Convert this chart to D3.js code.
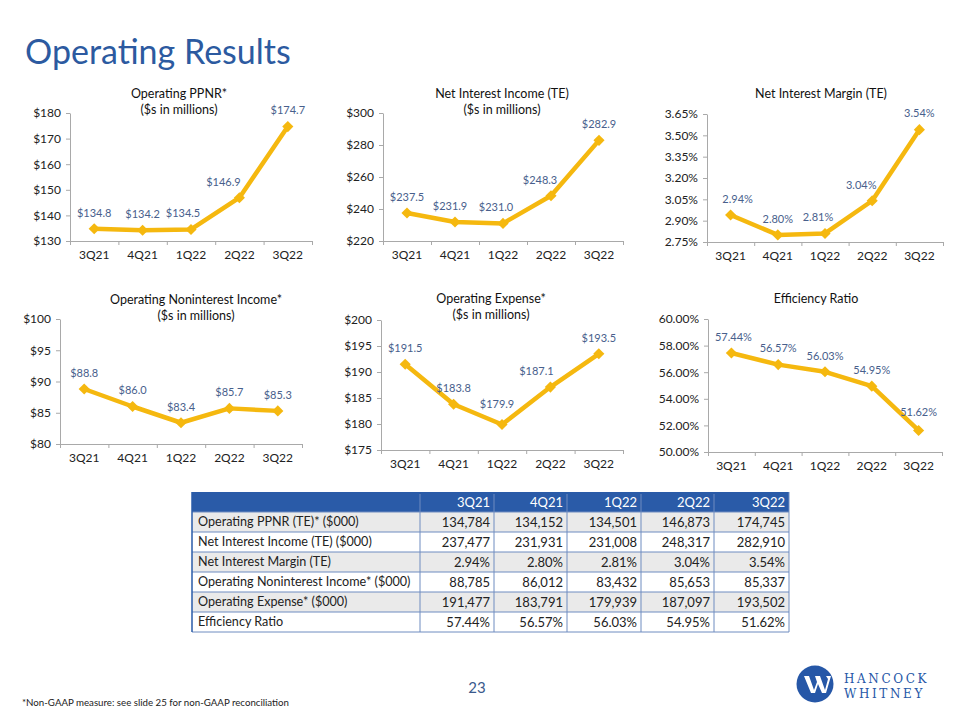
<!DOCTYPE html>
<html><head><meta charset="utf-8">
<script src="https://cdn.jsdelivr.net/npm/d3@7"></script>
<style>body{margin:0;background:#fff}svg{display:block}</style>
</head><body><svg id="c" width="960" height="720"></svg>
<script>
// ---- data ----
const quarters = ["3Q21","4Q21","1Q22","2Q22","3Q22"];
const ppnr = [134.8,134.2,134.5,146.9,174.7];
const nii = [237.5,231.9,231.0,248.3,282.9];
const nim = [2.94,2.80,2.81,3.04,3.54];
const nonint = [88.8,86.0,83.4,85.7,85.3];
const opex = [191.5,183.8,179.9,187.1,193.5];
const effRatio = [57.44,56.57,56.03,54.95,51.62];

const ppnrTicks = [130,140,150,160,170,180];
const niiTicks = [220,240,260,280,300];
const nimTicks = [2.75,2.90,3.05,3.20,3.35,3.50,3.65];
const nonintTicks = [80,85,90,95,100];
const opexTicks = [175,180,185,190,195,200];
const effTicks = [50,52,54,56,58,60];

const tableRowLabels = ["Operating PPNR (TE)* ($000)","Net Interest Income (TE) ($000)","Net Interest Margin (TE)","Operating Noninterest Income* ($000)","Operating Expense* ($000)","Efficiency Ratio"];
const tblPPNR = ["134,784","134,152","134,501","146,873","174,745"];
const tblNII = ["237,477","231,931","231,008","248,317","282,910"];
const tblNIM = ["2.94%","2.80%","2.81%","3.04%","3.54%"];
const tblNonint = ["88,785","86,012","83,432","85,653","85,337"];
const tblOpex = ["191,477","183,791","179,939","187,097","193,502"];
const tblEff = ["57.44%","56.57%","56.03%","54.95%","51.62%"];

// ---- styles ----
const FONT = "Lato, 'Open Sans', sans-serif";
const BLUE = "#2C5AA0";
const GOLD = "#F5B80F";
const LABEL = "#48608C";
const AXIS = "#A9A9A9";

const svg = d3.select("#c");

svg.append("text").attr("x",25).attr("y",64).attr("font-family",FONT)
  .attr("font-size",34).attr("fill",BLUE).text("Operating Results");

const money = d => "$" + d3.format("d")(d);
const money1 = d => "$" + d.toFixed(1);
const pct2 = d => d.toFixed(2) + "%";

const charts = [
  {title:["Operating PPNR*","($s in millions)"], tx:179, ty:94, values:ppnr, ticks:ppnrTicks, tf:money, lf:money1,
   box:[70,312,113,241], off:[[0,0],[0,0],[-8,0],[-16,0],[0,0]]},
  {title:["Net Interest Income (TE)","($s in millions)"], tx:502, ty:94, values:nii, ticks:niiTicks, tf:money, lf:money1,
   box:[383,623,113,241], off:[[0,0],[-5,0],[-7,0],[-11,0],[0,0]]},
  {title:["Net Interest Margin (TE)"], tx:821, ty:94, values:nim, ticks:nimTicks, tf:pct2, lf:pct2,
   box:[707,943,114,242], off:[[7,0],[0,0],[-7,0],[-11,0],[0,0]]},
  {title:["Operating Noninterest Income*","($s in millions)"], tx:196, ty:300, values:nonint, ticks:nonintTicks, tf:money, lf:money1,
   box:[60,302,319,444], off:[[0,0],[0,0],[0,0],[0,0],[0,0]]},
  {title:["Operating Expense*","($s in millions)"], tx:491, ty:299, values:opex, ticks:opexTicks, tf:money, lf:money1,
   box:[381,623,320,450], off:[[0,0],[0,0],[-5,-4],[-14,0],[0,0]]},
  {title:["Efficiency Ratio"], tx:816, ty:299, values:effRatio, ticks:effTicks, tf:pct2, lf:pct2,
   box:[708,942,319,452], off:[[2,0],[0,0],[0,0],[0,0],[0,-2]]}
];

charts.forEach(c => {
  const [x0,x1,yt,yb] = c.box;
  const g = svg.append("g");
  const x = d3.scaleBand().domain(quarters).range([x0,x1]);
  const y = d3.scaleLinear().domain([c.ticks[0], c.ticks[c.ticks.length-1]]).range([yb,yt]);
  const cx = q => x(q) + x.bandwidth()/2;

  c.title.forEach((t,i) => g.append("text").attr("x",c.tx).attr("y",c.ty + i*16).attr("dy","0.35em")
    .attr("text-anchor","middle").attr("font-family",FONT).attr("font-size",12.5).attr("fill","#111").text(t));

  const ya = g.append("g").attr("transform",`translate(${x0},0)`)
    .call(d3.axisLeft(y).tickValues(c.ticks).tickFormat(c.tf).tickSize(4).tickSizeOuter(0).tickPadding(5));
  const xa = g.append("g").attr("transform",`translate(0,${yb})`)
    .call(d3.axisBottom(x).tickSize(0).tickPadding(9));
  const xb = d3.scaleLinear().domain([0,quarters.length]).range([x0,x1]);
  const xt = g.append("g").attr("transform",`translate(0,${yb})`)
    .call(d3.axisBottom(xb).ticks(quarters.length).tickFormat("").tickSize(4).tickSizeOuter(0));
  [ya,xa,xt].forEach(a => {
    a.selectAll("path.domain,line").attr("stroke",AXIS);
    a.selectAll("text").attr("font-family",FONT).attr("font-size",12).attr("fill","#222");
  });
  xa.select("path.domain").remove();

  const pts = quarters.map((q,i) => ({q, v:c.values[i], i}));
  g.append("path").datum(pts).attr("fill","none").attr("stroke",GOLD).attr("stroke-width",4.5)
    .attr("stroke-linejoin","round")
    .attr("d", d3.line().x(d=>cx(d.q)).y(d=>y(d.v)));
  g.selectAll("path.mk").data(pts).join("path").attr("class","mk")
    .attr("d", d3.symbol(d3.symbolSquare, 62))
    .attr("transform", d => `translate(${cx(d.q)},${y(d.v)}) rotate(45)`)
    .attr("fill",GOLD);
  g.selectAll("text.lbl").data(pts).join("text").attr("class","lbl")
    .attr("x", d => cx(d.q) + c.off[d.i][0])
    .attr("y", d => y(d.v) - 16 + c.off[d.i][1])
    .attr("dy","0.35em").attr("text-anchor","middle")
    .attr("font-family",FONT).attr("font-size",11).attr("fill",LABEL)
    .text(d => c.lf(d.v));
});

// ---- table ----
const tRows = [tblPPNR, tblNII, tblNIM, tblNonint, tblOpex, tblEff];
const colEdges = [192,420,494,567,641,714,789];
const tTop = 492, hH = 20, rH = 20;
const tg = svg.append("g");
tg.append("rect").attr("x",colEdges[0]).attr("y",tTop).attr("width",colEdges[6]-colEdges[0]).attr("height",hH).attr("fill","#2A5BA8");
tRows.forEach((r,i) => {
  const yy = tTop + hH + i*rH;
  tg.append("rect").attr("x",colEdges[0]).attr("y",yy).attr("width",colEdges[6]-colEdges[0]).attr("height",rH)
    .attr("fill", i%2===0 ? "#EAEAEA" : "#FFFFFF");
});
for (let i=0;i<=tRows.length;i++){
  const yy = tTop + hH + i*rH;
  tg.append("line").attr("x1",colEdges[0]).attr("x2",colEdges[6]).attr("y1",yy).attr("y2",yy)
    .attr("stroke", "#6F8CC0").attr("stroke-width", 1);
}
colEdges.forEach((xe,j) => {
  tg.append("line").attr("x1",xe).attr("x2",xe).attr("y1", j===0||j===6 ? tTop : tTop+2).attr("y2",tTop+hH+tRows.length*rH)
    .attr("stroke", j===0 ? "#2A5BA8" : "#6F8CC0").attr("stroke-width", j===0?1.5:1);
});
quarters.forEach((q,j) => {
  tg.append("text").attr("x",colEdges[j+2]-4).attr("y",tTop+hH/2).attr("dy","0.35em").attr("text-anchor","end")
    .attr("font-family",FONT).attr("font-size",13).attr("fill","#fff").text(q);
});
tRows.forEach((r,i) => {
  const yy = tTop + hH + i*rH + rH/2;
  tg.append("text").attr("x",colEdges[0]+6).attr("y",yy).attr("dy","0.35em")
    .attr("font-family",FONT).attr("font-size",12.6).attr("fill","#222").text(tableRowLabels[i]);
  r.forEach((v,j) => tg.append("text").attr("x",colEdges[j+2]-4).attr("y",yy).attr("dy","0.35em").attr("text-anchor","end")
    .attr("font-family",FONT).attr("font-size",13).attr("fill","#222").text(v));
});

// ---- footer ----
svg.append("text").attr("x",22).attr("y",703).attr("dy","0.35em").attr("font-family",FONT).attr("font-size",9.7)
  .attr("fill","#222").text("*Non-GAAP measure: see slide 25 for non-GAAP reconciliation");
svg.append("text").attr("x",477).attr("y",688).attr("dy","0.35em").attr("text-anchor","middle").attr("font-family",FONT)
  .attr("font-size",15).attr("fill","#3B5A8C").text("23");

// logo
const lg = svg.append("g");
lg.append("circle").attr("cx",815).attr("cy",684).attr("r",18.5).attr("fill","#2657A7");
lg.append("path").attr("d","M804,676 L809,676 L814,690 L817,682 L815,676 L820,676 L825,690 L828,679 L826,676 L831,676 L826,693 L822,693 L818,684 L815,693 L811,693 Z")
  .attr("fill","#fff");
lg.append("text").attr("x",844).attr("y",679).attr("dy","0.35em").attr("font-family","'DejaVu Serif', 'Liberation Serif', serif")
  .attr("font-size",12).attr("letter-spacing",2.6).attr("fill","#2657A7").text("HANCOCK");
lg.append("text").attr("x",844).attr("y",694).attr("dy","0.35em").attr("font-family","'DejaVu Serif', 'Liberation Serif', serif")
  .attr("font-size",12).attr("letter-spacing",2.6).attr("fill","#2657A7").text("WHITNEY");
</script></body></html>
